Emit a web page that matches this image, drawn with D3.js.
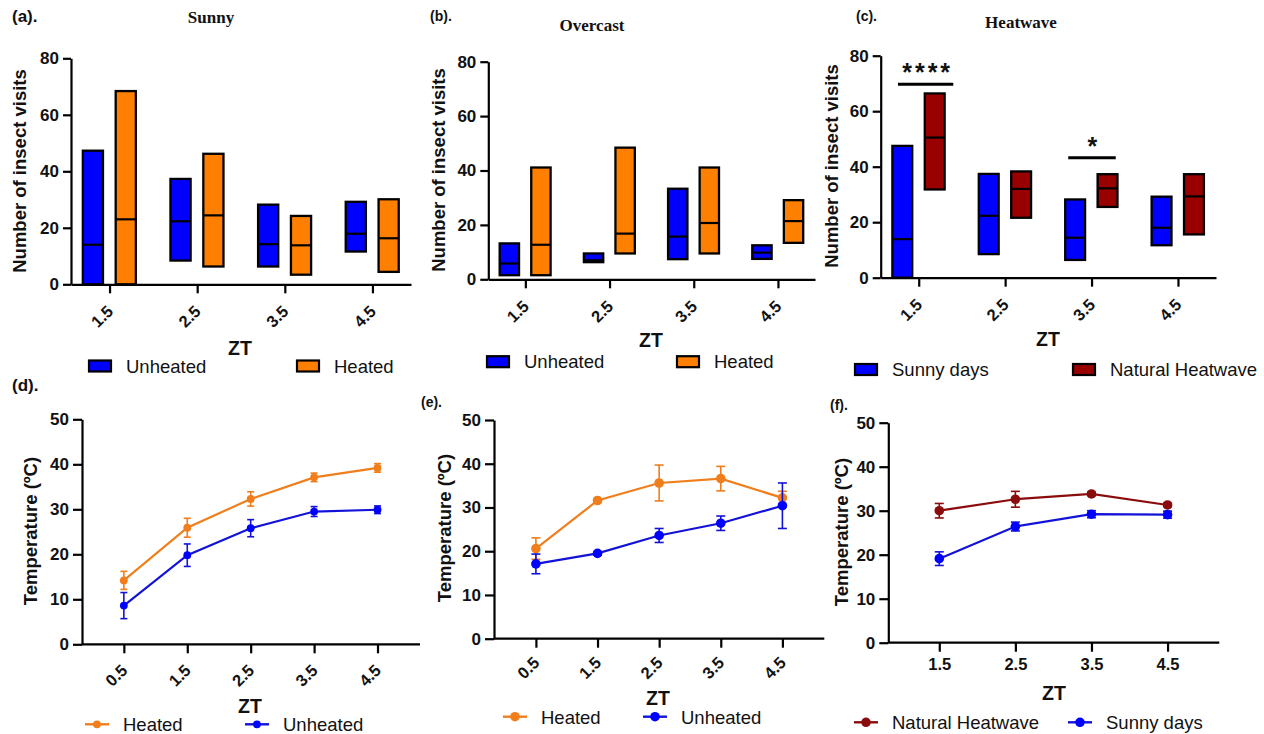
<!DOCTYPE html>
<html>
<head>
<meta charset="utf-8">
<script src="https://cdn.jsdelivr.net/npm/d3@7"></script>
<style>
  body { margin: 0; background: #fff; }
  text { font-family: 'Liberation Sans', Arial, sans-serif; }
</style>
</head>
<body>
<script>
// ---- data ----
// floating bars: [min, median, max]
var zt = ["1.5", "2.5", "3.5", "4.5"]
var sunnyUnheated = [[0, 14, 47.3], [8.4, 22.3, 37.3], [6.3, 14.2, 28.2], [11.6, 17.9, 29.2]]
var sunnyHeated = [[0, 23, 68.4], [6.3, 24.4, 46.2], [3.4, 13.8, 24.2], [4.4, 16.3, 30.1]]
var overcastUnheated = [[1.5, 5.8, 13.2], [6.3, 7.0, 9.5], [7.4, 15.7, 33.3], [7.5, 9.8, 12.5]]
var overcastHeated = [[1.5, 12.7, 41.1], [9.5, 16.8, 48.4], [9.5, 20.7, 41.1], [13.4, 21.4, 29.1]]
var heatwaveSunny = [[0, 13.9, 47.5], [8.5, 22.3, 37.4], [6.4, 14.4, 28.2], [11.7, 18, 29.2]]
var heatwaveNatural = [[31.8, 50.5, 66.4], [21.6, 32, 38.3], [25.5, 32.2, 37.3], [15.6, 29.3, 37.3]]
var significance = [{ zt: "1.5", y: 69.7, label: "****" }, { zt: "3.5", y: 43.2, label: "*" }]

// temperature lines: mean and error
var ztTemp = [0.5, 1.5, 2.5, 3.5, 4.5]
var sunnyHeatedTemp = [14.2, 25.9, 32.3, 37.1, 39.2]
var sunnyHeatedErr = [2.0, 2.1, 1.6, 0.95, 0.95]
var sunnyUnheatedTemp = [8.6, 19.8, 25.8, 29.5, 29.9]
var sunnyUnheatedErr = [2.9, 2.5, 1.9, 1.1, 0.85]
var overcastHeatedTemp = [20.6, 31.6, 35.6, 36.6, 32.2]
var overcastHeatedErr = [2.45, 0.4, 4.1, 2.8, 1.5]
var overcastUnheatedTemp = [17.1, 19.5, 23.6, 26.4, 30.4]
var overcastUnheatedErr = [2.25, 0.4, 1.6, 1.65, 5.2]
var ztHeatwave = [1.5, 2.5, 3.5, 4.5]
var heatwaveTemp = [30.0, 32.6, 33.8, 31.3]
var heatwaveErr = [1.65, 1.8, 0.4, 0.4]
var sunnyDaysTemp = [19.1, 26.4, 29.2, 29.1]
var sunnyDaysErr = [1.55, 1.0, 0.8, 0.8]

var BLUE = "#0000ff", ORANGE = "#ff8000", DARKRED = "#990000"
var LBLUE = "#1212d8", LORANGE = "#f07e1c", LRED = "#8b0c0c"

var svg = d3.select("body").append("svg")
	.attr("width", 1264)
	.attr("height", 734)
	.style("background", "#fff")

function styleAxis(g, size) {
	g.selectAll("path, line").attr("stroke", "#000").attr("stroke-width", 2.2)
	g.selectAll("text").style("font-size", size + "px").style("font-weight", "bold").attr("fill", "#111")
}

function plainText(x, y, str, opts) {
	var t = svg.append("text").attr("x", x).attr("y", y).text(str)
		.style("font-size", opts.size + "px")
		.style("font-weight", opts.weight || "normal")
		.attr("text-anchor", opts.anchor || "start")
		.attr("fill", "#111")
	if (opts.family) t.style("font-family", opts.family)
	if (opts.spacing) t.style("letter-spacing", opts.spacing + "px")
	return t
}

function yLabel(cx, cy, str) {
	svg.append("text")
		.attr("transform", "translate(" + cx + "," + cy + ") rotate(-90)")
		.attr("text-anchor", "middle").attr("dy", "0.35em")
		.style("font-size", "18.5px").style("font-weight", "bold").attr("fill", "#111")
		.text(str)
}

function drawBars(p) {
	var x = d3.scalePoint().domain(zt).range([p.left, p.right]).padding(0.44)
	var y = d3.scaleLinear().domain([0, 80]).range([p.bottom, p.top])
	var step = x.step()
	var w = 0.23 * step

	p.series.forEach(function (s, i) {
		var off = i == 0 ? -0.19 : 0.185
		var g = svg.append("g")
		g.selectAll("rect").data(s.values).enter().append("rect")
			.attr("x", function (d, j) { return x(zt[j]) + off * step - w / 2 })
			.attr("y", function (d) { return y(d[2]) })
			.attr("width", w)
			.attr("height", function (d) { return y(d[0]) - y(d[2]) })
			.attr("fill", s.color).attr("stroke", "#000").attr("stroke-width", 2.3)
		g.selectAll("line").data(s.values).enter().append("line")
			.attr("x1", function (d, j) { return x(zt[j]) + off * step - w / 2 })
			.attr("x2", function (d, j) { return x(zt[j]) + off * step + w / 2 })
			.attr("y1", function (d) { return y(d[1]) })
			.attr("y2", function (d) { return y(d[1]) })
			.attr("stroke", "#000").attr("stroke-width", 2.2)
	})

	if (p.sig) {
		var spans = { "1.5": [-0.24, 0.40], "3.5": [-0.27, 0.28] }
		p.sig.forEach(function (s) {
			var sp = spans[s.zt]
			svg.append("line")
				.attr("x1", x(s.zt) + sp[0] * step).attr("x2", x(s.zt) + sp[1] * step)
				.attr("y1", y(s.y)).attr("y2", y(s.y))
				.attr("stroke", "#000").attr("stroke-width", 3)
			plainText(x(s.zt) + (sp[0] + sp[1]) / 2 * step + 2, y(s.y) - 3, s.label,
				{ size: 25, weight: "bold", anchor: "middle", spacing: 3 })
		})
	}

	var ya = svg.append("g").attr("transform", "translate(" + p.left + ",0)")
		.call(d3.axisLeft(y).tickValues([0, 20, 40, 60, 80]).tickSize(8).tickSizeOuter(0).tickPadding(4))
	styleAxis(ya, 17)
	var xa = svg.append("g").attr("transform", "translate(0," + p.bottom + ")")
		.call(d3.axisBottom(x).tickSize(9).tickSizeOuter(0))
	styleAxis(xa, 16.5)
	xa.selectAll("text").attr("x", 0).attr("y", 0).attr("dy", "0.35em")
		.attr("transform", "translate(0,24) rotate(-45)").style("text-anchor", "end")

	yLabel(p.ylab[0], p.ylab[1], "Number of insect visits")
	plainText(p.zt[0], p.zt[1], "ZT", { size: 19.5, weight: "bold", anchor: "middle" })
	plainText(p.title[0], p.title[1], p.titleText, { size: 17, weight: "bold", anchor: "middle", family: "'Liberation Serif', 'Times New Roman', serif" })
	plainText(p.letter[0], p.letter[1], p.letterText, { size: p.letterSize, weight: "bold" })

	p.series.forEach(function (s, i) {
		var lx = p.legend[i]
		svg.append("rect").attr("x", lx).attr("y", p.legendY - 5.5).attr("width", 22).attr("height", 11)
			.attr("fill", s.color).attr("stroke", "#000").attr("stroke-width", 2.2)
		plainText(lx + 37, p.legendY + 6.5, s.label, { size: 18.5 })
	})
}

function drawLines(p) {
	var x = d3.scaleLinear().domain(p.xdom).range([p.left, p.right])
	var y = d3.scaleLinear().domain([0, 50]).range([p.bottom, p.top])
	var line = d3.line().x(function (d) { return x(d[0]) }).y(function (d) { return y(d[1]) })

	var ya = svg.append("g").attr("transform", "translate(" + p.left + ",0)")
		.call(d3.axisLeft(y).tickValues([0, 10, 20, 30, 40, 50]).tickSize(9).tickSizeOuter(0).tickPadding(4))
	styleAxis(ya, 17)
	var xa = svg.append("g").attr("transform", "translate(0," + p.bottom + ")")
		.call(d3.axisBottom(x).tickValues(p.xs).tickFormat(d3.format(".1f")).tickSize(9).tickSizeOuter(0).tickPadding(7))
	styleAxis(xa, 16.5)
	xa.select(".domain").attr("d", "M" + p.left + ",0H" + p.right)
	if (p.rotate) {
		xa.selectAll("text").attr("x", 0).attr("y", 0).attr("dy", "0.35em")
			.attr("transform", "translate(0," + p.rotate + ") rotate(-45)").style("text-anchor", "end")
	}

	p.series.forEach(function (s) {
		var pts = p.xs.map(function (v, i) { return [v, s.values[i], s.err[i]] })
		var g = svg.append("g")
		g.append("path").attr("d", line(pts)).attr("fill", "none")
			.attr("stroke", s.color).attr("stroke-width", 2.2)
		var eb = g.selectAll("g.eb").data(pts).enter().append("g")
		eb.append("line")
			.attr("x1", function (d) { return x(d[0]) }).attr("x2", function (d) { return x(d[0]) })
			.attr("y1", function (d) { return y(d[1] + d[2]) }).attr("y2", function (d) { return y(d[1] - d[2]) })
			.attr("stroke", s.color).attr("stroke-width", 1.6)
		;[1, -1].forEach(function (sgn) {
			eb.append("line")
				.attr("x1", function (d) { return x(d[0]) - p.cap / 2 }).attr("x2", function (d) { return x(d[0]) + p.cap / 2 })
				.attr("y1", function (d) { return y(d[1] + sgn * d[2]) }).attr("y2", function (d) { return y(d[1] + sgn * d[2]) })
				.attr("stroke", s.color).attr("stroke-width", 1.6)
		})
		g.selectAll("circle").data(pts).enter().append("circle")
			.attr("cx", function (d) { return x(d[0]) }).attr("cy", function (d) { return y(d[1]) })
			.attr("r", p.r).attr("fill", s.dot)
	})

	yLabel(p.ylab[0], p.ylab[1], "Temperature (ºC)")
	plainText(p.zt[0], p.zt[1], "ZT", { size: 19.5, weight: "bold", anchor: "middle" })
	plainText(p.letter[0], p.letter[1], p.letterText, { size: p.letterSize, weight: "bold" })

	p.series.forEach(function (s, i) {
		var lx = p.legend[i]
		svg.append("line").attr("x1", lx).attr("x2", lx + 24).attr("y1", p.legendY).attr("y2", p.legendY)
			.attr("stroke", s.color).attr("stroke-width", 2.4)
		svg.append("circle").attr("cx", lx + 12).attr("cy", p.legendY).attr("r", p.r).attr("fill", s.dot)
		plainText(lx + 38, p.legendY + 7, s.label, { size: 18.5 })
	})
}

drawBars({
	left: 71, right: 411, top: 58.3, bottom: 284.3,
	series: [{ values: sunnyUnheated, color: BLUE, label: "Unheated" }, { values: sunnyHeated, color: ORANGE, label: "Heated" }],
	ylab: [20, 171], zt: [240, 355], title: [211, 23], titleText: "Sunny",
	letter: [12, 22], letterText: "(a).", letterSize: 17,
	legend: [89, 297], legendY: 366
})
drawBars({
	left: 488.3, right: 815, top: 61.7, bottom: 279.3,
	series: [{ values: overcastUnheated, color: BLUE, label: "Unheated" }, { values: overcastHeated, color: ORANGE, label: "Heated" }],
	ylab: [439, 170], zt: [651, 347], title: [592, 31], titleText: "Overcast",
	letter: [430, 21], letterText: "(b).", letterSize: 14,
	legend: [487, 677], legendY: 361.7
})
drawBars({
	left: 880.7, right: 1216, top: 55.7, bottom: 277.7,
	series: [{ values: heatwaveSunny, color: BLUE, label: "Sunny days" }, { values: heatwaveNatural, color: DARKRED, label: "Natural Heatwave" }],
	sig: significance,
	ylab: [832, 166], zt: [1048, 346], title: [1021, 28], titleText: "Heatwave",
	letter: [856, 21], letterText: "(c).", letterSize: 14,
	legend: [855, 1073], legendY: 369.5
})

drawLines({
	left: 82, right: 420, top: 419.3, bottom: 644.3, xdom: [-0.16, 5.17], xs: ztTemp, rotate: 23,
	series: [
		{ values: sunnyHeatedTemp, err: sunnyHeatedErr, color: LORANGE, dot: LORANGE, label: "Heated" },
		{ values: sunnyUnheatedTemp, err: sunnyUnheatedErr, color: LBLUE, dot: BLUE, label: "Unheated" }],
	r: 3.9, cap: 7,
	ylab: [31, 531], zt: [250, 713], letter: [12, 391], letterText: "(d).", letterSize: 17,
	legend: [85, 245], legendY: 724.3
})
drawLines({
	left: 494, right: 824.3, top: 420, bottom: 638.7, xdom: [-0.18, 5.18], xs: ztTemp, rotate: 21,
	series: [
		{ values: overcastHeatedTemp, err: overcastHeatedErr, color: LORANGE, dot: LORANGE, label: "Heated" },
		{ values: overcastUnheatedTemp, err: overcastUnheatedErr, color: LBLUE, dot: BLUE, label: "Unheated" }],
	r: 4.8, cap: 9,
	ylab: [445, 528], zt: [658, 705], letter: [421, 407], letterText: "(e).", letterSize: 14,
	legend: [503, 643], legendY: 716.7
})
drawLines({
	left: 888.3, right: 1219.3, top: 422.7, bottom: 642.7, xdom: [0.83, 5.18], xs: ztHeatwave, rotate: 0,
	series: [
		{ values: heatwaveTemp, err: heatwaveErr, color: LRED, dot: LRED, label: "Natural Heatwave" },
		{ values: sunnyDaysTemp, err: sunnyDaysErr, color: LBLUE, dot: BLUE, label: "Sunny days" }],
	r: 4.8, cap: 9,
	ylab: [842, 532], zt: [1054, 700], letter: [830, 410], letterText: "(f).", letterSize: 14,
	legend: [854, 1068], legendY: 722.3
})
</script>
</body>
</html>
